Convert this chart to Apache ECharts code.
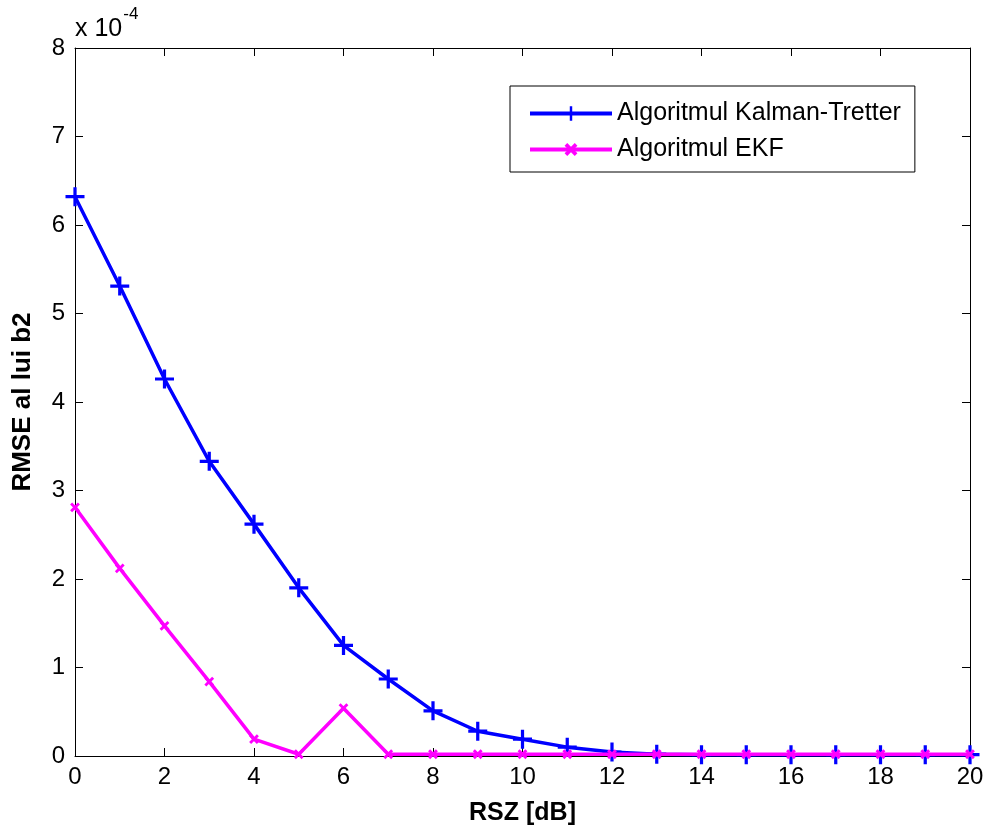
<!DOCTYPE html>
<html><head><meta charset="utf-8">
<script src="https://cdn.jsdelivr.net/npm/echarts@6/dist/echarts.min.js"></script>
<style>html,body{margin:0;padding:0;background:#fff}#c{width:989px;height:831px}</style>
</head><body><div id="c"></div>
<script>
const categories = [0,1,2,3,4,5,6,7,8,9,10,11,12,13,14,15,16,17,18,19,20];
const kalmanTretter = [6.32,5.31,4.26,3.33,2.62,1.90,1.25,0.87,0.51,0.28,0.19,0.10,0.045,0.02,0.015,0.015,0.015,0.015,0.015,0.015,0.015];
const ekf = [2.81,2.12,1.47,0.84,0.19,0.02,0.54,0.02,0.02,0.02,0.02,0.02,0.02,0.02,0.02,0.02,0.02,0.02,0.02,0.02,0.02];
const seriesNames = ['Algoritmul Kalman-Tretter','Algoritmul EKF'];
const xTicks = [0,2,4,6,8,10,12,14,16,18,20];
const yTicks = [0,1,2,3,4,5,6,7,8];

const FONT = 'Liberation Sans, Arial, sans-serif';
const plusPath = 'path://M-1,-0.17L1,-0.17L1,0.17L-1,0.17Z M-0.17,-1L0.17,-1L0.17,1L-0.17,1Z';
const xPath = 'path://M-1,-0.26L1,-0.26L1,0.26L-1,0.26Z M-0.26,-1L0.26,-1L0.26,1L-0.26,1Z';
const chart = echarts.init(document.getElementById('c'), null, {renderer:'canvas'});
const axisCommon = {
  type:'value',
  axisLine:{show:true,onZero:false,lineStyle:{color:'#000',width:1}},
  axisTick:{show:true,inside:true,length:8,lineStyle:{color:'#000',width:1}},
  splitLine:{show:false}
};
chart.setOption({
  animation:false,
  backgroundColor:'#fff',
  grid:{left:75,right:19,top:48,bottom:74,containLabel:false},
  xAxis:[
    Object.assign({}, axisCommon, {
      min:0,max:20,interval:2,position:'bottom',
      axisLabel:{color:'#000',fontFamily:FONT,fontSize:24,margin:9},
      name:'RSZ [dB]',nameLocation:'middle',nameGap:45,
      nameTextStyle:{color:'#000',fontFamily:FONT,fontSize:25,fontWeight:'bold'}
    }),
    Object.assign({}, axisCommon, {min:0,max:20,interval:2,position:'top',axisLabel:{show:false}})
  ],
  yAxis:[
    Object.assign({}, axisCommon, {
      min:0,max:8,interval:1,position:'left',
      axisLabel:{color:'#000',fontFamily:FONT,fontSize:24,margin:10},
      name:'RMSE al lui b2',nameLocation:'middle',nameGap:39,nameRotate:90,
      nameTextStyle:{color:'#000',fontFamily:FONT,fontSize:26,fontWeight:'bold'}
    }),
    Object.assign({}, axisCommon, {min:0,max:8,interval:1,position:'right',axisLabel:{show:false}})
  ],
  legend:{
    orient:'vertical',left:510,top:86,
    padding:[15,14,10,18],itemGap:11,itemWidth:82,itemHeight:18,
    borderColor:'#000',borderWidth:1,backgroundColor:'#fff',
    textStyle:{color:'#000',fontFamily:FONT,fontSize:25},
    lineStyle:{width:4},
    data:seriesNames
  },
  graphic:[{
    type:'text',left:75,top:6,
    style:{
      text:'{a|x 10}{b|-4}',
      rich:{
        a:{fontFamily:FONT,fontSize:25,fill:'#000',verticalAlign:'bottom',lineHeight:36},
        b:{fontFamily:FONT,fontSize:17,fill:'#000',verticalAlign:'top',padding:[0,0,16,1]}
      }
    }
  }],
  series:[
    {
      name:seriesNames[0],type:'line',
      data:categories.map((x,i)=>[x,kalmanTretter[i]]),
      color:'#0000ff',
      lineStyle:{color:'#0000ff',width:3.5},
      itemStyle:{color:'#0000ff'},
      symbol:plusPath,symbolSize:19,showSymbol:true,z:2
    },
    {
      name:seriesNames[1],type:'line',
      data:categories.map((x,i)=>[x,ekf[i]]),
      color:'#ff00ff',
      lineStyle:{color:'#ff00ff',width:3.5},
      itemStyle:{color:'#ff00ff'},
      symbol:xPath,symbolRotate:45,symbolSize:11,showSymbol:true,z:3
    }
  ]
});
</script></body></html>
